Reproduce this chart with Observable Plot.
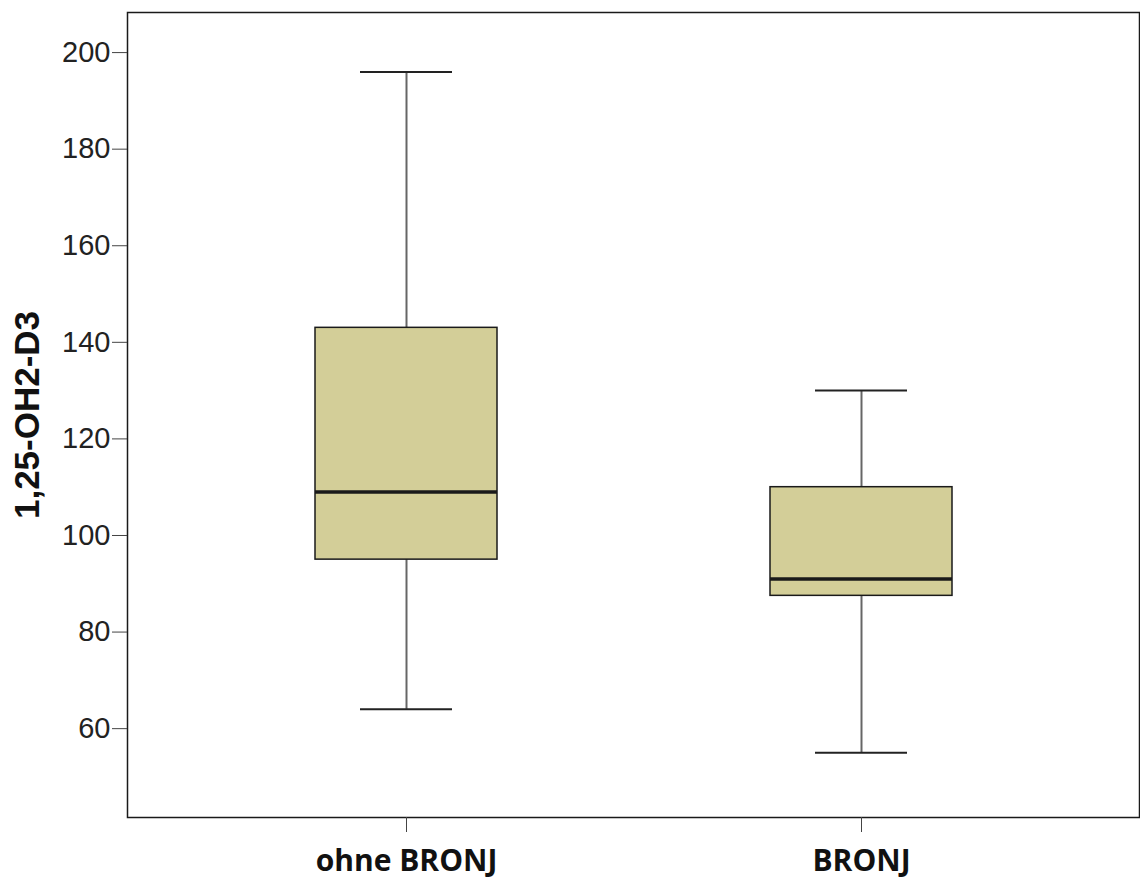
<!DOCTYPE html>
<html>
<head>
<meta charset="utf-8">
<script src="https://cdn.jsdelivr.net/npm/d3@7"></script>
<script src="https://cdn.jsdelivr.net/npm/@observablehq/plot@0.6"></script>
<style>
  html, body { margin: 0; padding: 0; background: #fff; }
  #chart svg { display: block; }
</style>
</head>
<body>
<div id="chart"></div>
<script>
const groups = ["ohne BRONJ", "BRONJ"];
const whiskerLow = [64, 55];
const q1 = [95, 87.5];
const median = [109, 91];
const q3 = [143, 110];
const whiskerHigh = [196, 130];
const yTicks = [60, 80, 100, 120, 140, 160, 180, 200];
const yLabel = "1,25-OH2-D3";

const data = groups.map((g, i) => ({
  group: g, lo: whiskerLow[i], q1: q1[i], med: median[i], q3: q3[i], hi: whiskerHigh[i]
}));

const chart = Plot.plot({
  width: 1140,
  height: 882,
  marginLeft: 127,
  marginTop: 12,
  marginBottom: 65,
  marginRight: 1,
  style: { background: "#fff", color: "#222" },
  x: { type: "band", domain: groups, paddingInner: 0.6, paddingOuter: 0.41 },
  y: { domain: [41.6, 208.3] },
  marks: [
    Plot.frame({ stroke: "#1a1a1a", strokeWidth: 1.5 }),
    Plot.ruleX(data, { x: "group", y1: "q3", y2: "hi", stroke: "#666", strokeWidth: 2 }),
    Plot.ruleX(data, { x: "group", y1: "lo", y2: "q1", stroke: "#666", strokeWidth: 2 }),
    Plot.tickY(data, { x: "group", y: "hi", insetLeft: 45, insetRight: 45, stroke: "#222", strokeWidth: 2 }),
    Plot.tickY(data, { x: "group", y: "lo", insetLeft: 45, insetRight: 45, stroke: "#222", strokeWidth: 2 }),
    Plot.barY(data, { x: "group", y1: "q1", y2: "q3", fill: "#D3CE98", stroke: "#1a1a1a", strokeWidth: 1.5 }),
    Plot.tickY(data, { x: "group", y: "med", stroke: "#1a1a1a", strokeWidth: 3.5 }),
    Plot.axisY({
      ticks: yTicks, tickSize: 15, tickPadding: 2, stroke: "#444",
      fontSize: 29, fontFamily: "Liberation Sans, Arial, sans-serif", fill: "#222",
      label: null
    }),
    Plot.axisY({
      ticks: [], tickSize: 0,
      fontSize: 35, fontWeight: "bold", fontFamily: "Liberation Sans, Arial, sans-serif", fill: "#111",
      label: yLabel, labelAnchor: "center", labelArrow: "none", labelOffset: 113
    }),
    Plot.axisX({
      tickSize: 15, tickPadding: 17, stroke: "#444",
      fontSize: 30, fontWeight: "bold", fontFamily: "Open Sans, sans-serif", fill: "#111",
      label: null
    })
  ]
});

document.getElementById("chart").append(chart);
</script>
</body>
</html>
